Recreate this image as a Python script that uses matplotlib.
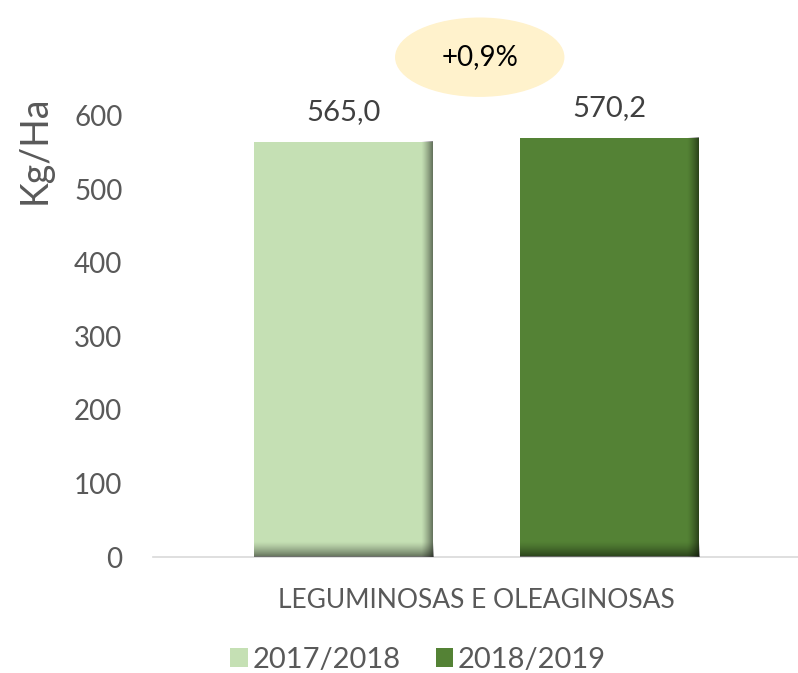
import matplotlib
matplotlib.use("Agg")
import matplotlib.pyplot as plt
from matplotlib.patches import Ellipse, Patch
import numpy as np

# yield per hectare, two harvest seasons
category = "LEGUMINOSAS E OLEAGINOSAS"
seasons = ["2017/2018", "2018/2019"]
values = [565.0, 570.2]
change_label = "+0,9%"
yticks = [0, 100, 200, 300, 400, 500, 600]

colors = ["#C5E0B4", "#548235"]
TEXT = "#595959"

plt.rcParams["font.family"] = ["Lato", "DejaVu Sans"]

fig = plt.figure(figsize=(7.98, 6.73), dpi=100)
ax = fig.add_axes([153 / 798, 1 - 557 / 673, 647 / 798, 514.5 / 673])
ax.set_xlim(-0.5, 0.5)
ax.set_ylim(0, 700)

offsets = [-0.206, 0.206]
width = 0.277
px_x = 1 / 647          # data units per pixel, x
px_y = 700 / 514.5      # data units per pixel, y


def shade(x0, x1, y0, y1, direction, strength=0.5):
    """Dark gradient strip over a bar edge (Excel-style inner shadow)."""
    ramp = np.linspace(0, strength, 32) ** 1.3 / strength ** 0.3
    img = np.zeros((32, 32, 4))
    if direction == "x":
        img[:, :, 3] = ramp[None, :]
        origin = "lower"
    else:
        img[:, :, 3] = ramp[:, None]
        origin = "upper"
    ax.imshow(img, extent=(x0, x1, y0, y1), aspect="auto", origin=origin,
              interpolation="bilinear", zorder=3)


for off, v, c in zip(offsets, values, colors):
    ax.bar(off, v, width=width, color=c, zorder=2)
    left, right = off - width / 2, off + width / 2
    shade(right - 12 * px_x, right, 0, v, "x")
    shade(left, right, 0, 15 * px_y, "y")
    ax.text(off, v + 40, f"{v:.1f}".replace(".", ","), ha="center", va="center",
            fontsize=21, color="#404040")

ax.set_xlim(-0.5, 0.5)
ax.set_ylim(0, 700)

ax.add_patch(Ellipse((0.005, 680), 168 * px_x, 78 * px_y, color="#FFF2CC", clip_on=False, zorder=4))
ax.text(0.005, 680, change_label, ha="center", va="center", fontsize=20, color="black", zorder=5)

for s in ["top", "right", "left"]:
    ax.spines[s].set_visible(False)
ax.spines["bottom"].set_color("#D9D9D9")
ax.spines["bottom"].set_linewidth(1.2)
ax.set_yticks(yticks)
ax.set_yticklabels([str(t) for t in yticks], fontsize=20, color=TEXT)
ax.tick_params(axis="y", length=0, pad=22)
ax.set_xticks([0])
ax.set_xticklabels([category], fontsize=19, color=TEXT)
ax.tick_params(axis="x", length=0, pad=22)

fig.text(35 / 798, 1 - 150 / 673, "Kg/Ha", rotation=90, ha="center", va="center",
         fontsize=27, color=TEXT)

handles = [Patch(facecolor=c, edgecolor="none") for c in colors]
fig.legend(handles, seasons, loc="center", bbox_to_anchor=(418 / 798, 1 - 660 / 673),
           ncol=2, frameon=False, fontsize=21, handlelength=0.6, handleheight=0.6,
           handletextpad=0.15, columnspacing=1.2, labelcolor=TEXT)

fig.savefig("out.png", dpi=100, facecolor="white")
